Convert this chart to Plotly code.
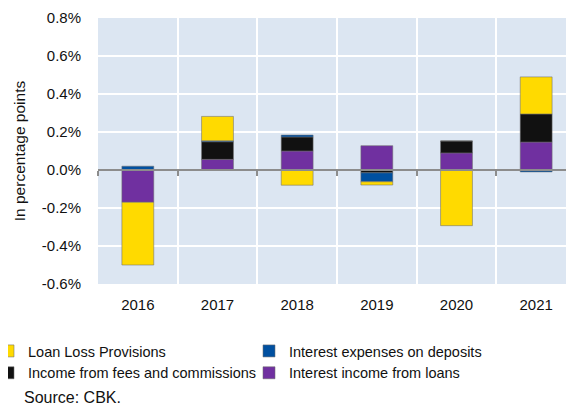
import plotly.graph_objects as go

years = ["2016", "2017", "2018", "2019", "2020", "2021"]
interest_income_loans = [-0.17, 0.056, 0.10, 0.128, 0.09, 0.147]
fees_commissions = [0.0, 0.093, 0.074, -0.015, 0.063, 0.148]
interest_exp_deposits = [0.02, 0.005, 0.01, -0.047, 0.0, -0.01]
loan_loss_provisions = [-0.33, 0.128, -0.08, -0.017, -0.293, 0.195]

tick_vals = [-0.6, -0.4, -0.2, 0.0, 0.2, 0.4, 0.6, 0.8]
tick_labels = ["-0.6%", "-0.4%", "-0.2%", "0.0%", "0.2%", "0.4%", "0.6%", "0.8%"]

FONT = "Liberation Sans, Arial, sans-serif"
outline = dict(color="rgba(110,110,110,0.55)", width=1)

series = [
    ("Interest income from loans", interest_income_loans, "#7030A0", 4),
    ("Income from fees and commissions", fees_commissions, "#111111", 3),
    ("Interest expenses on deposits", interest_exp_deposits, "#0050A0", 2),
    ("Loan Loss Provisions", loan_loss_provisions, "#FFDA00", 1),
]

fig = go.Figure()
for name, vals, color, rank in series:
    fig.add_trace(go.Bar(x=years, y=vals, name=name, legendrank=rank,
                         marker=dict(color=color, line=outline),
                         hoverinfo="skip"))

# page has an 8px body margin; figure coordinates = page coordinates - 8
OFF = 8
W = 574
H = 408
L = 98 - OFF
R = W - (576 - OFF)
T = 18 - OFF
B = H - (284 - OFF)
PW = W - L - R
PH = H - T - B
Y0 = -0.6
Y1 = 0.8
zero_pos = (0 - Y0) / (Y1 - Y0)  # position within plot area (paper coords)


def px_x(page_px):
    return (page_px - OFF - L) / PW


def px_y(page_py):
    return (H - B - (page_py - OFF)) / PH


fig.update_layout(
    width=W, height=H,
    margin=dict(l=L, r=R, t=T, b=B, autoexpand=False),
    barmode="relative",
    bargap=0.6,
    paper_bgcolor="white",
    plot_bgcolor="#DCE6F2",
    font=dict(family=FONT, size=15, color="#111111"),
    showlegend=True,
    legend=dict(
        orientation="h", x=px_x(-12), xanchor="left", y=px_y(335), yanchor="top",
        entrywidth=216, entrywidthmode="pixels", itemwidth=30,
        tracegroupgap=0, font=dict(size=14.5, family=FONT, color="#111111"),
        bgcolor="rgba(0,0,0,0)", traceorder="normal",
    ),
    xaxis=dict(
        type="category", categoryorder="array", categoryarray=years,
        range=[-0.5, 5.5], automargin=False,
        showgrid=True, gridcolor="white", gridwidth=2,
        tickson="boundaries", ticks="", showline=False, zeroline=False,
        ticklabelstandoff=10,
        tickfont=dict(size=15, family=FONT, color="#111111"),
    ),
    xaxis2=dict(
        overlaying="x", anchor="free", position=zero_pos, side="bottom",
        range=[-0.5, 5.5], tickmode="linear", tick0=-0.5, dtick=1,
        showgrid=False, zeroline=False, showticklabels=False, automargin=False,
        showline=True, linecolor="#8C8C8C", linewidth=2,
        ticks="outside", ticklen=5, tickwidth=2, tickcolor="#8C8C8C",
    ),
    yaxis=dict(
        range=[Y0, Y1], tickvals=tick_vals, ticktext=tick_labels,
        automargin=False,
        showgrid=True, gridcolor="white", gridwidth=2,
        zeroline=False, showline=False, ticks="",
        ticklabelstandoff=16,
        tickfont=dict(size=15, family=FONT, color="#111111"),
        title=dict(text="In percentage points", standoff=12,
                   font=dict(size=15.5, family=FONT, color="#111111")),
    ),
    annotations=[
        dict(text="Source: CBK.", x=px_x(22), y=px_y(397), xref="paper", yref="paper",
             xanchor="left", yanchor="middle", showarrow=False,
             font=dict(size=16, family=FONT, color="#111111"))
    ],
)

# invisible trace that activates the overlay axis drawn at zero
fig.add_trace(go.Scatter(x=[0], y=[0], xaxis="x2", mode="markers",
                         marker=dict(opacity=0), showlegend=False, hoverinfo="skip"))

fig.write_html("out.html")
